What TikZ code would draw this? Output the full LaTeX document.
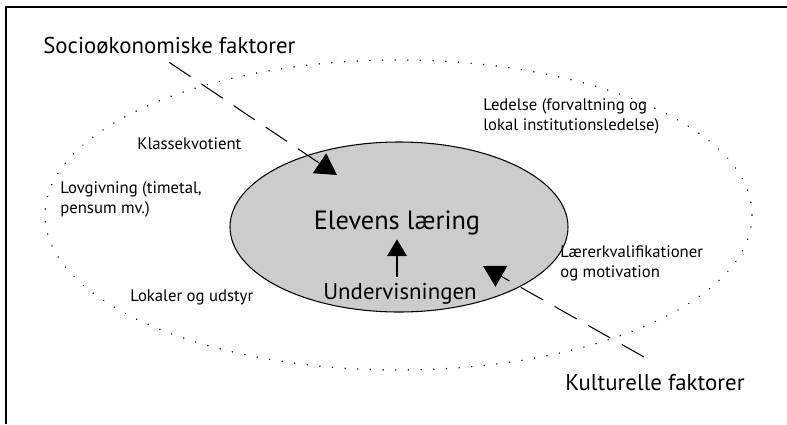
\documentclass[tikz,border=0pt]{standalone}
\usepackage{fontspec}
\setmainfont{PT Sans}
\usepackage{tikz}
\usetikzlibrary{arrows.meta, positioning, calc}

\tikzset{
    label/.style={font=\fontsize{9.5}{11.3}\selectfont, align=left, anchor=base west, inner sep=0pt},
    factor/.style={font=\fontsize{13}{15}\selectfont, anchor=base west, inner sep=0pt},
    influence/.style={line width=0.6pt, dash pattern=on 14.5pt off 7.5pt, -{Triangle[length=12pt, width=13.5pt]}},
}

\begin{document}
\begin{tikzpicture}
    \useasboundingbox (-7.98,-3.94) rectangle (7.76,4.54);

    % Frame
    \draw[line width=0.8pt] (-7.86,-3.94) -- (-7.86,4.40) -- (7.76,4.40);

    % Outer context
    \draw[line width=0.9pt, dash pattern=on 0.01pt off 7.2pt, line cap=round] (-0.01,0.24) ellipse (7.07cm and 3.10cm);

    % Learning
    \draw[fill=black!20, line width=0.6pt] (0,0) ellipse (3.38cm and 1.70cm);
    \node[anchor=base, inner sep=0pt, font=\fontsize{15}{18}\selectfont] (elevens) at (-0.04,-0.04) {Elevens læring};
    \node[anchor=base, inner sep=0pt, font=\fontsize{13}{15}\selectfont] (underv) at (0.02,-1.44) {Undervisningen};
    \draw[line width=0.6pt, -{Triangle[length=9.6pt, width=11.3pt]}] ($(underv.north -| elevens.south)+(0,3.4pt)$) -- ($(elevens.south)+(0,-2.5pt)$);

    % Factors inside
    \node[label] (klasse) at (-5.24,1.56) {Klassekvotient};
    \node[label] (lov) at (-6.78,0.28) {Lovgivning (timetal,\\pensum mv.)};
    \node[label] (lokaler) at (-5.38,-1.48) {Lokaler og udstyr};
    \node[label] (ledelse) at (1.68,1.94) {Ledelse (forvaltning og\\lokal institutionsledelse)};
    \node[label] (laerer) at (3.22,-1.00) {Lærerkvalifikationer\\og motivation};

    % Factors outside
    \node[factor] (socio) at (-7.12,3.48) {Socioøkonomiske faktorer};
    \node[factor] (kultur) at (3.32,-3.26) {Kulturelle faktorer};
    \coordinate (socioin) at (-1.24,1.04);
    \coordinate (kulturout) at (4.90,-2.60);
    \coordinate (kulturin) at (1.68,-0.78);
    \draw[influence] ([yshift=-5pt]socio.south) -- (socioin);
    \draw[influence] (kulturout) -- (kulturin);
\end{tikzpicture}
\end{document}
